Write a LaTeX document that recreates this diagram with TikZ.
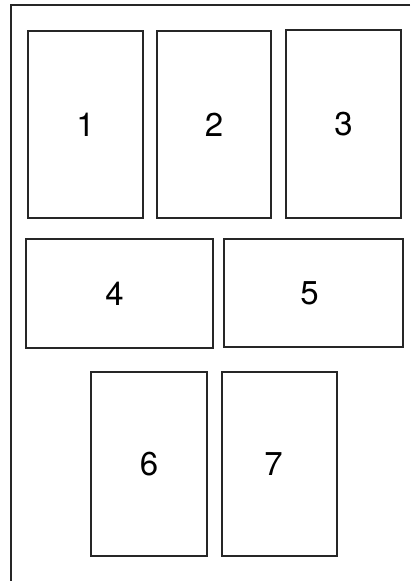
\documentclass[tikz,border=0pt]{standalone}
\usepackage{fontspec}
\setmainfont{TeX Gyre Heros}
\begin{document}
\begin{tikzpicture}[x=1pt,y=-1pt,
  panel/.style={draw=black!85,line width=1.3pt,inner sep=0pt,font=\fontsize{33}{33}\selectfont},
  frame/.style={draw=black!85,line width=1.6pt}]
\useasboundingbox (0,0) rectangle (410,581);
\coordinate (ftop) at (410,5);
\coordinate (fcorner) at (11,5);
\coordinate (fbot) at (11,581);
\draw[frame] (ftop) -- (fcorner) -- (fbot);
\node[panel,minimum width=115pt,minimum height=187pt] (p1) at (85.5,124.5) {1};
\node[panel,minimum width=114pt,minimum height=187pt] (p2) at (214,124.5) {2};
\node[panel,minimum width=115pt,minimum height=188pt] (p3) at (343.5,124) {3};
\node[panel,minimum width=187pt,minimum height=109pt] (p4) at (119.5,293.5) {4\hspace*{10pt}};
\node[panel,minimum width=179pt,minimum height=108pt] (p5) at (313.5,293) {5\hspace*{8pt}};
\node[panel,minimum width=116pt,minimum height=184pt] (p6) at (149,464) {6};
\node[panel,minimum width=115pt,minimum height=184pt] (p7) at (279.5,464) {7\hspace*{12pt}};
\end{tikzpicture}
\end{document}
